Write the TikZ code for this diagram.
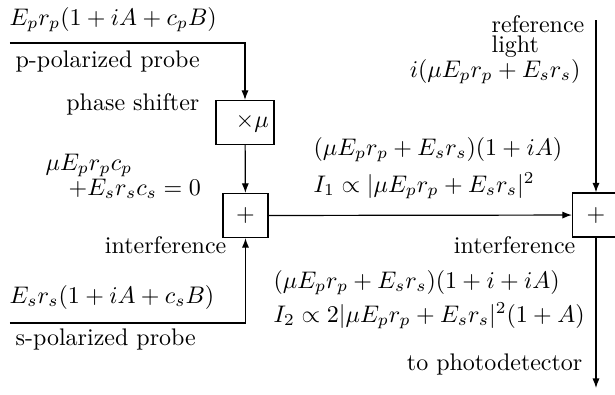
\documentclass[tikz,border=0pt]{standalone}
\usetikzlibrary{arrows.meta}
\begin{document}
\begin{tikzpicture}[x=0.41667pt,y=-0.41667pt,
  line width=0.5pt,
  arr/.style={-{Latex[length=4pt,width=3pt]}},
  blk/.style={draw,line width=0.5pt,inner sep=0pt,minimum width=#1*0.41667pt,minimum height=44*0.41667pt},
  lblw/.style={anchor=base west,inner sep=0pt},
  lble/.style={anchor=base east,inner sep=0pt}]
\useasboundingbox (0,0) rectangle (615,394);
\begin{scope}
\clip (0,0) rectangle (615,394);
% blocks
\node[blk=58] (mu) at (245,122.5) {\hspace*{6pt}$\times\mu$};
\node[blk=45] (plus1) at (245.5,215.5) {$+$};
\node[blk=47] (plus2) at (596,215) {$+$};
% free ends
\coordinate (pin) at (10,43);
\coordinate (sin) at (10,323);
\coordinate (reftop) at (596,20);
\coordinate (out) at (596,388);
% connectors
\draw[arr] (pin) -| (mu.north);
\draw[arr] (mu) -- (plus1);
\draw[arr] (sin) -| (plus1.south);
\draw[arr] (plus1) -- (plus2);
\draw[arr] (reftop) -- (plus2);
\draw[arr] (plus2) -- (out);
\end{scope}
% labels
\node[lblw] (tp) at (9,25) {$E_pr_p(1+iA+c_pB)$};
\node[lblw] (pp) at (15,67) {p-polarized probe};
\node[lble] (ps) at (200,110) {phase shifter};
\node[lblw] (c1) at (45,170) {$\mu E_pr_pc_p$};
\node[lblw] (c2) at (68,195) {$+E_sr_sc_s=0$};
\node[lble] (if1) at (227,253) {interference};
\node[lblw] (ts) at (9,303) {$E_sr_s(1+iA+c_sB)$};
\node[lblw] (sp) at (15,345) {s-polarized probe};
\node[lblw] (m1) at (313,155) {$(\mu E_pr_p+E_sr_s)(1+iA)$};
\node[lblw] (m2) at (313,192) {$I_1\propto|\mu E_pr_p+E_sr_s|^2$};
\node[lble] (if2) at (576,253) {interference};
\node[lblw] (o1) at (273,288) {$(\mu E_pr_p+E_sr_s)(1+i+iA)$};
\node[lblw] (o2) at (273,322) {$I_2\propto 2|\mu E_pr_p+E_sr_s|^2(1+A)$};
\node[lble] (pd) at (583,370) {to photodetector};
\node[anchor=south west,inner sep=0pt,align=left] (r1) at (491,57.7) {reference\\[-3.8pt]light};
\node[lble] (r3) at (581,77) {$i(\mu E_pr_p+E_sr_s)$};
\end{tikzpicture}
\end{document}
